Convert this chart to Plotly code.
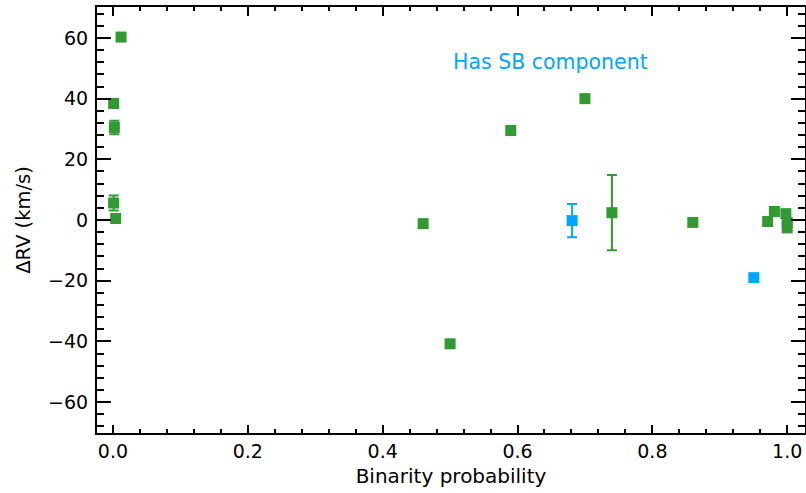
import plotly.graph_objects as go

# Green points (no SB component)
green_x = [0.012, 0.001, 0.002, 0.001, 0.004, 0.46, 0.50, 0.59, 0.70, 0.74, 0.86, 0.971, 0.981, 0.998, 1.0, 1.0]
green_y = [60.3, 38.4, 30.5, 5.6, 0.5, -1.2, -40.8, 29.5, 40.0, 2.4, -0.8, -0.5, 2.8, 2.1, -0.8, -2.6]
green_err = [0, 0, 2.2, 2.5, 0, 0, 0, 0, 0, 12.4, 0, 0, 0, 0, 0, 0]

# Blue points (has SB component)
blue_x = [0.681, 0.9505]
blue_y = [-0.2, -19.0]
blue_err = [5.5, 0]

GREEN = "#339933"
BLUE = "#00A6FF"
FONT = "DejaVu Sans"

fig = go.Figure()
fig.add_trace(go.Scatter(
    x=green_x, y=green_y, mode="markers",
    marker=dict(symbol="square", size=11, color=GREEN, line=dict(width=0)),
    error_y=dict(type="data", array=green_err, visible=True, color=GREEN, thickness=2, width=5),
    showlegend=False,
))
fig.add_trace(go.Scatter(
    x=blue_x, y=blue_y, mode="markers",
    marker=dict(symbol="square", size=11, color=BLUE, line=dict(width=0)),
    error_y=dict(type="data", array=blue_err, visible=True, color=BLUE, thickness=2, width=5),
    showlegend=False,
))

fig.add_annotation(x=0.649, y=52.0, xref="x", yref="y", text="Has SB component",
                   showarrow=False, font=dict(family=FONT, size=20.5, color=BLUE))

axis_common = dict(
    showgrid=False, zeroline=False, showline=True, linecolor="black", linewidth=2,
    mirror="ticks", ticks="inside", tickcolor="black", tickwidth=1.5,
    tickfont=dict(family=FONT, size=19, color="black"),
)

fig.update_xaxes(
    range=[-0.0237, 1.0264], tickmode="linear", tick0=0, dtick=0.2, tickformat=".1f",
    ticklen=8.5,
    minor=dict(dtick=0.04, tick0=0, ticks="inside", ticklen=4, tickcolor="black", tickwidth=1.5),
    title=dict(text="Binarity probability", font=dict(family=FONT, size=20, color="black"), standoff=8),
    **axis_common,
)
fig.update_yaxes(
    range=[-70.2, 70.2], tickmode="linear", tick0=0, dtick=20,
    ticklen=14, ticklabelstandoff=3,
    minor=dict(dtick=4, tick0=0, ticks="inside", ticklen=7, tickcolor="black", tickwidth=1.5),
    title=dict(text="ΔRV (km/s)", font=dict(family=FONT, size=19.5, color="black"), standoff=12),
    **axis_common,
)

fig.update_layout(
    width=806, height=493,
    margin=dict(l=97, r=1, t=7, b=60, autoexpand=False),
    paper_bgcolor="white", plot_bgcolor="white",
    font=dict(family=FONT, color="black"),
)

fig.write_html("out.html", config={"displayModeBar": False},
               post_script="document.body.style.margin='0';document.body.style.overflow='hidden';")
